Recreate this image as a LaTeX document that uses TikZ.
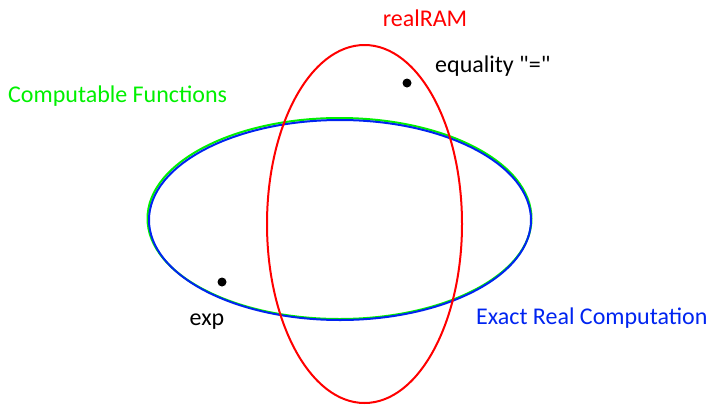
\documentclass[tikz,border=0pt]{standalone}
\usepackage{fontspec}
\setmainfont{Carlito}[Ligatures=TeXOff]
\definecolor{ringred}{RGB}{255,0,0}
\definecolor{ringgreen}{RGB}{0,240,0}
\definecolor{ringblue}{RGB}{0,36,240}
\tikzset{ring/.style={line width=2pt}, lbl/.style={font=\fontsize{24}{28}\selectfont, inner sep=0pt}}
\begin{document}
\begin{tikzpicture}[x=1pt, y=-1pt]
\useasboundingbox (0,0) rectangle (714,405);

\draw[ring, ringgreen] (339.5, 218.5) ellipse (192 and 100.5);
\draw[ring, ringblue] (340, 220) ellipse (191 and 100);
\draw[ring, ringred] (364.5, 224) ellipse (97.5 and 179);

\fill (407, 83) circle (4.5);
\fill (222, 282) circle (4.5);

\node[lbl, text=ringred] (ram) at (425, 18) {realRAM};
\node[lbl, anchor=west] (eq) at (435, 66) {equality "="};
\node[lbl, anchor=west, text=ringgreen] (cf) at (8, 96) {Computable Functions};
\node[lbl] (exp) at (207, 322) {exp};
\node[lbl, anchor=west, text=ringblue] (erc) at (476, 318) {Exact Real Computation};

\end{tikzpicture}
\end{document}
